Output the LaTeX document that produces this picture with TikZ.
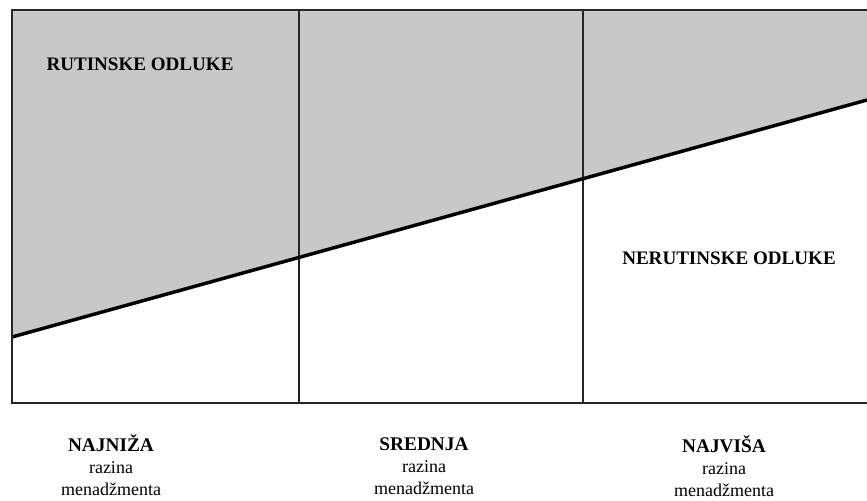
\documentclass[tikz,border=0pt]{standalone}
\usepackage{fontspec}
\setmainfont{Liberation Serif}
\usetikzlibrary{positioning}
\definecolor{sivo}{RGB}{200,200,200}
\tikzstyle{okvir}=[draw=black!85, line width=1.4pt]
\tikzstyle{granica}=[draw=black!85, line width=1.1pt]
\tikzstyle{dijagonala}=[draw=black, line width=2.6pt]
\tikzstyle{odluka}=[font=\fontsize{14.3}{16}\selectfont\bfseries, text centered]
\tikzstyle{razina}=[align=center, font=\fontsize{13.5}{16.5}\selectfont, inner sep=1pt]
\newcommand{\razinaNaslov}[1]{{\fontsize{14.5}{17}\selectfont\bfseries #1}}

\begin{document}
\begin{tikzpicture}[x=0.75pt, y=-0.75pt]
        \useasboundingbox (0,0) rectangle (867,500);

        % Kutovi okvira
        \coordinate (gore_l) at (12,10);
        \coordinate (gore_d) at (867,10);
        \coordinate (dolje_l) at (12,403);
        \coordinate (dolje_d) at (867,403);

        % Krajevi dijagonale
        \coordinate (crta_l) at (12,337);
        \coordinate (crta_d) at (867,100);

        % Sivo podrucje rutinskih odluka
        \fill[sivo] (gore_l) -- (gore_d) -- (crta_d) -- (crta_l) -- cycle;

        % Granice razina
        \coordinate (g1_gore) at (299,10);
        \coordinate (g1_dolje) at (299,403);
        \coordinate (g2_gore) at (583,10);
        \coordinate (g2_dolje) at (583,403);
        \draw[granica] (g1_gore) -- (g1_dolje);
        \draw[granica] (g2_gore) -- (g2_dolje);

        % Dijagonala i okvir
        \draw[dijagonala] (crta_l) -- (crta_d);
        \draw[okvir] (gore_d) -- (gore_l) -- (dolje_l) -- (dolje_d);

        % Vrste odluka
        \node[odluka] (rutinske) at (140,64) {RUTINSKE ODLUKE};
        \node[odluka] (nerutinske) at (729,258) {NERUTINSKE ODLUKE};

        % Razine menadzmenta
        \node[razina] (najniza) at (111,465) {\razinaNaslov{NAJNIŽA}\\razina\\menadžmenta};
        \node[razina] (srednja) at (424,466) {\razinaNaslov{SREDNJA}\\razina\\menadžmenta};
        \node[razina] (najvisa) at (724,466) {\razinaNaslov{NAJVIŠA}\\razina\\menadžmenta};
    \end{tikzpicture}
\end{document}
